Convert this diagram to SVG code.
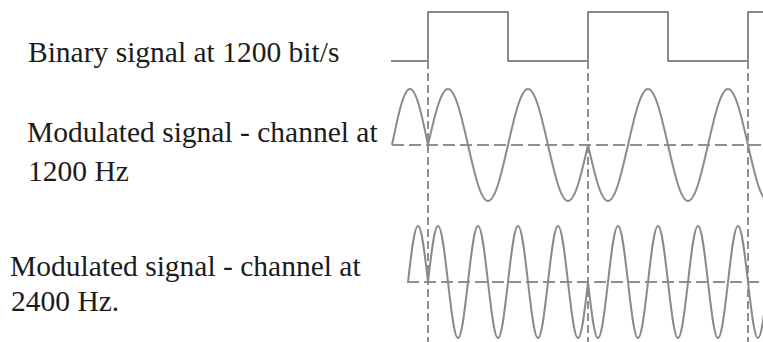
<svg xmlns="http://www.w3.org/2000/svg" width="763" height="342" viewBox="0 0 763 342">
<style>
  .lbl { font-family: "Liberation Serif", "Times New Roman", serif; font-size: 29.5px; fill: #1c1c1c; }
  .sig { fill: none; stroke: #8a8a8a; stroke-width: 2; stroke-linejoin: round; }
  .vdash { fill: none; stroke: #8f8f8f; stroke-width: 2; stroke-dasharray: 8 4; }
  .hdash { fill: none; stroke: #8f8f8f; stroke-width: 2; stroke-dasharray: 12 5; }
</style>
<rect width="763" height="342" fill="#ffffff"/>
<g id="labels">
  <text class="lbl" x="28" y="62">Binary signal at 1200 bit/s</text>
  <text class="lbl" x="27" y="142">Modulated signal - channel at</text>
  <text class="lbl" x="28" y="181">1200 Hz</text>
  <text class="lbl" x="10" y="276">Modulated signal - channel at</text>
  <text class="lbl" x="11" y="311">2400 Hz.</text>
</g>
<g id="guides">
  <line class="vdash" x1="428" y1="61" x2="428" y2="342"/>
  <line class="vdash" x1="588" y1="61" x2="588" y2="342"/>
  <line class="vdash" x1="748" y1="61" x2="748" y2="342"/>
  <line class="hdash" x1="392" y1="145" x2="763" y2="145"/>
  <line class="hdash" x1="407" y1="282" x2="763" y2="282"/>
</g>
<g id="binary-signal">
  <polyline class="sig" points="391,61 428,61 428,12 508,12 508,61 588,61 588,12 668,12 668,61 748,61 748,12 765,12"/>
</g>
<g id="carrier-1200">
  <path class="sig" d="M392,145 c 5.87,-28.69 11.49,-56 18,-56 s 12.13,27.31 18,56
  c 6.52,-28.69 12.76,-56 20,-56 s 13.48,27.31 20,56 s 12.76,56 20,56 s 13.48,-27.31 20,-56
  s 12.76,-56 20,-56 s 13.48,27.31 20,56 s 12.76,56 20,56 s 13.48,-27.31 20,-56
  c 6.52,28.69 12.76,56 20,56 s 13.48,-27.31 20,-56 s 12.76,-56 20,-56 s 13.48,27.31 20,56
  s 12.76,56 20,56 s 13.48,-27.31 20,-56 s 12.76,-56 20,-56 s 13.48,27.31 20,56
  s 12.76,56 20,56"/>
</g>
<g id="carrier-2400">
  <path class="sig" d="M408,282 c 3.26,-28.69 6.38,-56 10,-56 s 6.74,27.31 10,56
  c 3.26,-28.69 6.38,-56 10,-56 s 6.74,27.31 10,56 s 6.38,56 10,56 s 6.74,-27.31 10,-56
  s 6.38,-56 10,-56 s 6.74,27.31 10,56 s 6.38,56 10,56 s 6.74,-27.31 10,-56
  s 6.38,-56 10,-56 s 6.74,27.31 10,56 s 6.38,56 10,56 s 6.74,-27.31 10,-56
  s 6.38,-56 10,-56 s 6.74,27.31 10,56 s 6.38,56 10,56 s 6.74,-27.31 10,-56
  c 3.26,28.69 6.38,56 10,56 s 6.74,-27.31 10,-56 s 6.38,-56 10,-56 s 6.74,27.31 10,56
  s 6.38,56 10,56 s 6.74,-27.31 10,-56 s 6.38,-56 10,-56 s 6.74,27.31 10,56
  s 6.38,56 10,56 s 6.74,-27.31 10,-56 s 6.38,-56 10,-56 s 6.74,27.31 10,56
  s 6.38,56 10,56 s 6.74,-27.31 10,-56 s 6.38,-56 10,-56 s 6.74,27.31 10,56
  s 6.38,56 10,56 s 6.74,-27.31 10,-56"/>
</g>
</svg>
